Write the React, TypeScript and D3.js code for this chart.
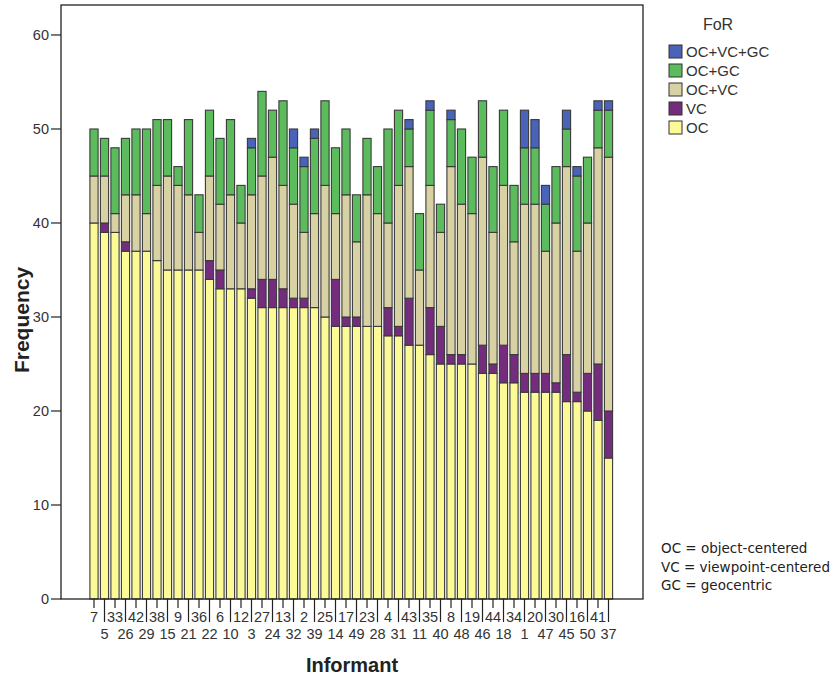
import React from 'react';
import * as d3 from 'd3';

const informants = ['7','5','33','26','42','29','38','15','9','21','36','22','6','10','12','3','27','24','13','32','2','39','25','14','17','49','23','28','4','31','43','11','35','40','8','48','19','46','44','18','34','1','20','47','30','45','16','50','41','37'];

const ocValues = [40,39,39,37,37,37,36,35,35,35,35,34,33,33,33,32,31,31,31,31,31,31,30,29,29,29,29,29,28,28,27,27,26,25,25,25,25,24,24,23,23,22,22,22,22,21,21,20,19,15];
const vcValues = [0,1,0,1,0,0,0,0,0,0,0,2,2,0,0,1,3,3,2,1,1,0,0,5,1,1,0,0,3,1,5,0,5,4,1,1,0,3,1,4,3,2,2,2,1,5,1,4,6,5];
const ocvcValues = [5,5,2,5,6,4,8,10,9,8,4,9,7,10,7,10,11,13,11,10,7,10,14,7,13,8,14,12,9,15,14,8,13,10,20,16,16,20,14,17,12,18,18,13,17,20,15,16,23,27];
const ocgcValues = [5,4,7,6,7,9,7,6,2,8,4,7,7,8,4,5,9,5,9,6,7,8,9,7,7,5,6,5,10,8,4,6,8,3,5,8,6,6,7,8,6,6,6,5,6,4,8,7,4,5];
const ocvcgcValues = [0,0,0,0,0,0,0,0,0,0,0,0,0,0,0,1,0,0,0,2,1,1,0,0,0,0,0,0,0,0,1,0,1,0,1,0,0,0,0,0,0,4,3,2,0,2,1,0,1,1];

const seriesKeys = ['OC','VC','OC+VC','OC+GC','OC+VC+GC'];
const seriesColors = ['#fcfa96','#742d7d','#d8d1a4','#5cbb5c','#4863b8'];
const legendOrder = ['OC+VC+GC','OC+GC','OC+VC','VC','OC'];
const yTicks = [0,10,20,30,40,50,60];
const notes = ['OC = object-centered','VC = viewpoint-centered','GC = geocentric'];

const W = 835, H = 681;
const L = 61, R = 643, T = 5, B = 599;

export default function App() {
  const rows = informants.map((inf, i) => ({
    inf,
    'OC': ocValues[i],
    'VC': vcValues[i],
    'OC+VC': ocvcValues[i],
    'OC+GC': ocgcValues[i],
    'OC+VC+GC': ocvcgcValues[i],
  }));
  const x = d3.scaleBand<string>().domain(informants).range([88.75, 613.75]).paddingInner(0.22).paddingOuter(0.11);
  const y = d3.scaleLinear().domain([0, 63.19]).range([B, T]);
  const color = d3.scaleOrdinal<string, string>().domain(seriesKeys).range(seriesColors);
  const stacked = d3.stack<any>().keys(seriesKeys)(rows);
  const font = 'Arial, "Liberation Sans", sans-serif';

  return (
    <svg width={W} height={H} style={{ position: 'absolute', left: 0, top: 0, background: '#fff' }} fontFamily={font}>
      <rect x={0} y={0} width={W} height={H} fill="#fff" />
      {stacked.map(s => (
        <g key={s.key} fill={color(s.key)}>
          {s.map((d, i) => d[1] - d[0] > 0 ? (
            <rect key={i} x={x(informants[i])} width={x.bandwidth()} y={y(d[1])} height={y(d[0]) - y(d[1])}
              stroke="#3a3a3a" strokeWidth={1.1} />
          ) : null)}
        </g>
      ))}
      <rect x={L} y={T} width={R - L} height={B - T} fill="none" stroke="#222" strokeWidth={1.3} />
      {yTicks.map(t => (
        <g key={t}>
          <line x1={L - 10} x2={L} y1={y(t)} y2={y(t)} stroke="#222" strokeWidth={1.2} />
          <text x={L - 12} y={y(t)} dy="0.35em" textAnchor="end" fontSize={14.5} fill="#333">{t}</text>
        </g>
      ))}
      {informants.map((inf, i) => {
        const cx = (x(inf) as number) + x.bandwidth() / 2;
        const low = i % 2 === 1;
        return (
          <g key={inf}>
            <line x1={cx} x2={cx} y1={B} y2={low ? 622 : 608} stroke="#222" strokeWidth={1.2} />
            <text x={cx} y={low ? 639 : 622} textAnchor="middle" fontSize={14.5} fill="#333">{inf}</text>
          </g>
        );
      })}
      <text x={352} y={672} textAnchor="middle" fontSize={20} fontWeight="bold" fill="#222">Informant</text>
      <text transform={`translate(29,${(T + B) / 2 + 18}) rotate(-90)`} textAnchor="middle" fontSize={21} fontWeight="bold" fill="#222">Frequency</text>
      <text x={718} y={30} textAnchor="middle" fontSize={16} fill="#333">FoR</text>
      {legendOrder.map((k, i) => (
        <g key={k}>
          <rect x={669} y={45 + i * 19} width={13} height={13} fill={color(k)} stroke="#333" strokeWidth={1} />
          <text x={686} y={52 + i * 19} dy="0.35em" fontSize={15} fill="#333">{k}</text>
        </g>
      ))}
      {notes.map((n, i) => (
        <text key={n} x={661} y={553 + i * 18.5} fontSize={13.5} fill="#222" fontFamily="'DejaVu Sans', Verdana, sans-serif">{n}</text>
      ))}
    </svg>
  );
}
